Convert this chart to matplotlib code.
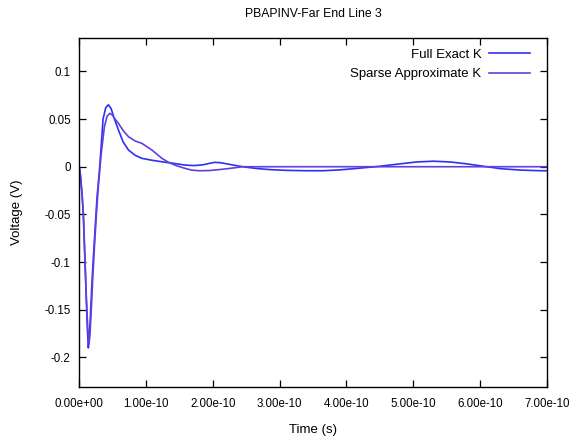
import numpy as np
import matplotlib
matplotlib.use("Agg")
import matplotlib.pyplot as plt

plt.rcParams['font.family'] = ['Liberation Sans', 'DejaVu Sans']

# time axis in units of 1e-10 s, voltages in V
t_full = [0.000, 0.020, 0.045, 0.065, 0.090, 0.110, 0.125, 0.140, 0.155, 0.175,
          0.195, 0.215, 0.240, 0.270, 0.310, 0.360, 0.400, 0.440, 0.480, 0.530,
          0.590, 0.660, 0.740, 0.840, 0.940, 1.090, 1.240, 1.420, 1.580, 1.720,
          1.850, 1.950, 2.030, 2.120, 2.250, 2.380, 2.500, 2.650, 2.850, 3.100,
          3.400, 3.650, 3.900, 4.200, 4.500, 4.800, 5.050, 5.300, 5.550, 5.800,
          6.050, 6.300, 6.600, 6.900, 7.000]
v_full = [0.002, -0.008, -0.028, -0.050, -0.100, -0.140, -0.170, -0.190, -0.178, -0.150,
          -0.120, -0.095, -0.066, -0.032, 0.000, 0.050, 0.062, 0.065, 0.061, 0.050,
          0.0385, 0.026, 0.0175, 0.012, 0.0088, 0.0068, 0.0052, 0.0035, 0.0018, 0.0012,
          0.0020, 0.0035, 0.0046, 0.0042, 0.0025, 0.0008, -0.0005, -0.0018, -0.003, -0.0038,
          -0.0042, -0.0042, -0.0033, -0.0015, 0.0005, 0.003, 0.005, 0.0058, 0.005, 0.003,
          0.0005, -0.002, -0.0035, -0.0042, -0.0042]

t_sparse = [0.000, 0.020, 0.045, 0.065, 0.090, 0.110, 0.130, 0.150, 0.165, 0.185,
            0.205, 0.230, 0.260, 0.290, 0.330, 0.380, 0.420, 0.463, 0.500, 0.550,
            0.590, 0.660, 0.740, 0.840, 0.940, 1.090, 1.240, 1.330, 1.430, 1.550,
            1.680, 1.800, 1.950, 2.100, 2.250, 2.450, 2.700, 3.000, 4.000, 5.000,
            6.000, 7.000]
v_sparse = [0.002, -0.008, -0.028, -0.050, -0.098, -0.138, -0.168, -0.186, -0.175, -0.148,
            -0.118, -0.085, -0.050, -0.020, 0.012, 0.042, 0.053, 0.056, 0.054, 0.049,
            0.0455, 0.038, 0.0315, 0.027, 0.0245, 0.0175, 0.0088, 0.005, 0.0018, -0.001,
            -0.0035, -0.0042, -0.004, -0.003, -0.0018, 0.000, 0.000, 0.000, 0.000, 0.000,
            0.000, 0.000]

x_ticks = np.arange(0, 8)
x_tick_labels = ['0.00e+00', '1.00e-10', '2.00e-10', '3.00e-10',
                 '4.00e-10', '5.00e-10', '6.00e-10', '7.00e-10']
y_ticks = [-0.2, -0.15, -0.1, -0.05, 0, 0.05, 0.1]
y_tick_labels = ['-0.2', '-0.15', '-0.1', '-0.05', '0', '0.05', '0.1']

fig = plt.figure(figsize=(5.72, 4.40), dpi=100)
ax = fig.add_axes([79 / 572, 1 - 387 / 440, 468 / 572, 349 / 440])

ax.plot(t_full, v_full, color='#3030f5', lw=1.2, label='Full Exact K')
ax.plot(t_sparse, v_sparse, color='#6040e0', lw=1.2, label='Sparse Approximate K')

ax.set_xlim(0, 7)
ax.set_ylim(-0.231, 0.135)
ax.set_xticks(x_ticks)
ax.set_xticklabels(x_tick_labels)
ax.set_yticks(y_ticks)
ax.set_yticklabels(y_tick_labels)
ax.tick_params(direction='in', length=5, width=0.9, top=True, right=True,
               labelsize=8.3, colors='black')
ax.tick_params(axis='x', pad=8)
ax.tick_params(axis='y', pad=6)
for s in ax.spines.values():
    s.set_linewidth(1.0)

ax.set_title('PBAPINV-Far End Line 3', fontsize=8.8, pad=15)
ax.set_xlabel('Time (s)', fontsize=9.5, labelpad=10)
ax.set_ylabel('Voltage (V)', fontsize=9.5, labelpad=15)

ax.legend(loc='upper right', bbox_to_anchor=(0.964, 0.97), frameon=False,
          markerfirst=False, fontsize=9.5, handlelength=3.1, handletextpad=0.6,
          labelspacing=0.55, borderaxespad=0, borderpad=0)

fig.savefig('out.png', dpi=100)
